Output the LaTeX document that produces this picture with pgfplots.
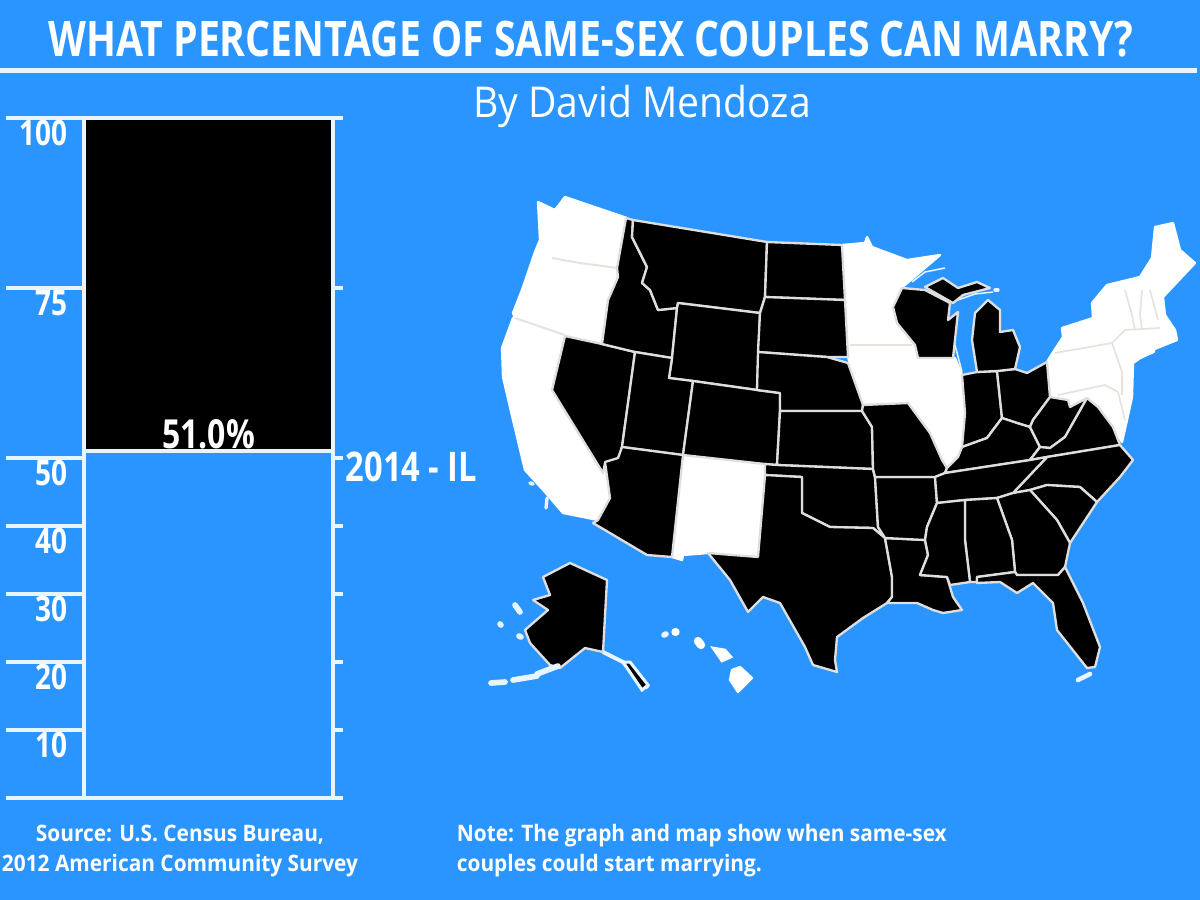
\documentclass[border=0pt]{standalone}
\usepackage{fontspec}
\usepackage{pgfplots}
\pgfplotsset{compat=1.18}
\setmainfont[FakeStretch=0.8]{Open Sans}
\newfontfamily\wide[FakeStretch=0.92]{Open Sans}
\definecolor{bg}{HTML}{2B95FF}
\definecolor{ln}{HTML}{E8F5FF}
\definecolor{bd}{HTML}{DEDEDE}
\definecolor{pale}{HTML}{E6E2DE}
\newcommand\stateb[1]{\addplot[fill=black,draw=bd,line width=1.4pt,line join=round] coordinates {#1} -- cycle;}
\newcommand\statew[1]{\addplot[fill=white,draw=white,line width=1.4pt,line join=round] coordinates {#1} -- cycle;}
\newcommand\isl[3][2.8pt]{\addplot[draw=#2,line width=#1,line cap=round] coordinates {#3};}
\begin{document}
\begin{tikzpicture}[x=1pt,y=1pt]
\fill[bg] (0,0) rectangle (720,540);
\path[use as bounding box] (0,0) rectangle (720,540);
\begin{axis}[at={(0pt,0pt)},anchor=south west,scale only axis,width=720pt,height=540pt,
  xmin=0,xmax=1200,ymin=0,ymax=900,y dir=reverse,hide axis,clip=true]
% rule under title
\addplot[ln,line width=3pt] coordinates {(0,70)(1197,70)};
% white states
\statew{(538,202)(555,210)(565,197)(627,218)(617,268)(618,277)(608,300)(602,344)(565,335)(515,318)(513,313)(522,290)(535,252)(540,240)}
\statew{(513,318)(565,335)(552,390)(603,473)(605,462)(610,498)(598,520)(563,513)(545,492)(525,470)(513,420)(503,377)(502,348)}
\statew{(683,455)(765,464)(758,557)(708,553)(683,555)(682,560)(672,557)}
\statew{(842,245)(865,243)(867,237)(872,247)(907,260)(940,255)(905,285)(900,288)(893,307)(897,323)(913,337)(915,345)(923,360)(927,370)(918,388)(908,403)(863,405)(848,357)(845,300)}
\statew{(918,358)(955,358)(962,375)(965,413)(962,447)(958,457)(947,468)(942,460)(930,433)(908,403)(918,388)(927,370)}
\statew{(1047,362)(1050,357)(1063,337)(1062,328)(1093,318)(1092,303)(1107,285)(1140,277)(1152,258)(1155,227)(1173,223)(1180,250)(1195,263)(1163,297)(1165,315)(1175,330)(1177,340)(1152,350)(1133,363)(1132,397)(1127,420)(1122,442)(1113,427)(1098,407)(1087,398)(1070,407)(1068,400)(1050,397)}
\isl{white}{(1137,358)(1153,351)}
\isl[2.2pt]{ln}{(530,483)(533,484)}
\isl[2pt]{ln}{(547,498)(546,508)}
% faint inner borders of the white states
\addplot[pale,line width=1.2pt] coordinates {(552,258)(580,263)(617,268)};
\addplot[pale,line width=1.2pt] coordinates {(515,318)(565,335)};
\addplot[pale,line width=1.2pt] coordinates {(850,345)(912,345)};
\addplot[pale,line width=1pt] coordinates {(1055,353)(1112,343)(1125,330)};
\addplot[pale,line width=1pt] coordinates {(1112,343)(1122,372)(1122,395)};
\addplot[pale,line width=1pt] coordinates {(1058,395)(1105,385)(1118,392)(1125,420)};
\addplot[pale,line width=1pt] coordinates {(1125,330)(1160,328)};
\addplot[pale,line width=1pt] coordinates {(1125,290)(1132,315)(1135,330)};
\addplot[pale,line width=1pt] coordinates {(1142,290)(1140,315)(1142,330)};
\addplot[pale,line width=1pt] coordinates {(1150,290)(1158,320)};
% Great Lakes shores
\addplot[ln,line width=.9pt] coordinates {(958,300)(975,294)(993,292)};
\addplot[ln,line width=.9pt] coordinates {(912,282)(925,272)(945,268)};
\isl[2pt]{ln}{(995,290)(998,290)}
\addplot[ln,line width=.9pt] coordinates {(955,320)(955,345)(962,372)};
% black states
\stateb{(565,336)(602,344)(635,352)(622,447)(618,463)(605,463)(603,473)(552,390)}
\stateb{(626,218)(633,220)(632,237)(647,267)(642,283)(650,290)(658,310)(677,308)(672,358)(635,352)(602,344)(608,300)(618,277)(617,268)}
\stateb{(633,220)(767,242)(765,297)(760,313)(678,303)(677,308)(658,310)(650,290)(642,283)(647,267)(632,237)}
\stateb{(678,303)(760,313)(757,390)(693,381)(669,378)(672,358)(677,308)}
\stateb{(635,352)(672,358)(669,378)(693,381)(683,455)(622,447)}
\stateb{(693,381)(757,390)(780,393)(780,411)(777,465)(765,464)(683,455)}
\stateb{(622,447)(683,455)(672,557)(647,555)(593,523)(598,520)(610,498)(605,462)(618,458)}
\stateb{(767,242)(842,245)(845,300)(765,297)}
\stateb{(765,297)(845,300)(848,357)(827,357)(758,352)(760,313)}
\stateb{(758,352)(827,357)(848,363)(863,405)(862,411)(780,411)(780,393)(757,390)}
\stateb{(780,411)(862,411)(872,427)(873,469)(777,465)}
\stateb{(765,464)(777,465)(873,469)(875,477)(878,527)(885,538)(873,528)(830,527)(802,513)(802,477)(765,475)}
\stateb{(765,475)(802,477)(802,513)(830,527)(873,528)(885,538)(892,577)(892,597)(887,603)(863,618)(837,637)(835,660)(837,672)(813,665)(805,647)(780,603)(763,597)(748,612)(730,580)(708,553)(758,557)}
\stateb{(885,538)(925,540)(928,555)(920,575)(947,577)(953,597)(962,610)(943,613)(933,610)(917,603)(887,603)(892,597)(892,577)}
\stateb{(875,477)(935,477)(937,503)(927,527)(925,540)(885,538)(878,527)}
\stateb{(863,405)(908,403)(930,433)(942,460)(947,468)(945,473)(935,477)(875,477)(873,469)(872,427)(862,411)}
\stateb{(902,288)(925,290)(950,303)(948,320)(958,312)(953,358)(918,358)(915,345)(897,323)(893,307)}
\stateb{(962,375)(977,372)(997,371)(1002,418)(987,438)(962,447)(965,413)}
\stateb{(997,371)(1015,369)(1027,373)(1047,362)(1050,397)(1033,420)(1030,427)(1017,423)(1002,418)}
\stateb{(977,372)(972,340)(975,313)(988,300)(1000,310)(1000,332)(1013,330)(1020,347)(1015,369)(997,371)}
\stateb{(925,287)(943,278)(958,288)(977,282)(990,288)(963,295)(953,303)}
\stateb{(962,447)(987,438)(1002,418)(1017,423)(1030,427)(1040,447)(1030,460)(945,473)(947,468)(958,457)}
\stateb{(1033,420)(1050,397)(1068,400)(1070,407)(1087,398)(1065,437)(1050,448)(1040,447)(1030,427)}
\stateb{(1087,398)(1098,407)(1113,427)(1120,445)(1047,457)(1030,460)(1040,447)(1050,448)(1065,437)}
\stateb{(1120,445)(1133,460)(1120,477)(1097,502)(1080,487)(1047,485)(1030,490)(1013,493)(1047,457)}
\stateb{(945,473)(1030,460)(1047,457)(1013,493)(997,498)(965,500)(937,503)(935,477)}
\stateb{(1030,490)(1047,485)(1080,487)(1097,502)(1070,543)(1057,520)}
\stateb{(997,498)(1013,493)(1030,490)(1057,520)(1070,543)(1065,567)(1058,575)(1017,575)(1015,572)(1012,540)}
\stateb{(965,500)(997,498)(1012,540)(1015,572)(977,577)(977,582)(970,582)(965,540)}
\stateb{(937,503)(965,500)(965,540)(970,582)(950,585)(947,577)(920,575)(928,555)(925,540)(927,527)}
\stateb{(977,577)(1015,572)(1017,575)(1058,575)(1065,567)(1083,603)(1100,647)(1095,667)(1087,668)(1057,630)(1053,603)(1033,583)(1017,593)(1000,582)(977,583)}
\isl{ln}{(1078,680)(1090,674)}
% Alaska, its islands, Hawaii
\addplot[draw=ln,line width=2.4pt] coordinates {(603,652)(623,662)(648,688)};
\stateb{(543,577)(570,563)(607,580)(603,652)(585,648)(560,668)(550,665)(530,643)(525,630)(548,610)(533,600)(550,595)}
\addplot[fill=black,draw=ln,line width=1.8pt] coordinates {(623,662)(630,662)(648,685)(642,690)} -- cycle;
\isl[3.4pt]{ln}{(491,683)(505,682)}
\isl[3.4pt]{ln}{(513,680)(537,676)}
\isl[3.4pt]{ln}{(537,674)(558,666)}
\isl[3.4pt]{ln}{(515,605)(520,612)}
\isl[3.4pt]{ln}{(500,624)(501,625)}
\isl[3.4pt]{ln}{(519,636)(521,637)}
\isl[3.4pt]{ln}{(664,635)(666,634)}
\isl[4.4pt]{white}{(675,632)(676,632)}
\isl[5pt]{white}{(698,641)(701,645)}
\addplot[fill=white,draw=white,line width=1.6pt] coordinates {(713,648)(725,650)(731,657)(722,661)} -- cycle;
\statew{(732,670)(740,667)(752,678)(738,692)(730,680)}
% titles and notes
\node[text=white,font=\fontsize{29.4pt}{30pt}\selectfont\bfseries] at (axis cs:591,39.5) {WHAT PERCENTAGE OF SAME-SEX COUPLES CAN MARRY?};
\node[text=white,font=\fontsize{25.5pt}{27pt}\selectfont\wide] at (axis cs:642,106) {By David Mendoza};
\node[text=white,font=\fontsize{24.5pt}{26pt}\selectfont\bfseries,anchor=west] at (axis cs:340,467) {2014 - IL};
\node[text=white,font=\fontsize{13.6pt}{18pt}\selectfont\wide\bfseries,align=center] at (axis cs:180,851) {Source: U.S. Census Bureau,\\2012 American Community Survey};
\node[text=white,font=\fontsize{13.6pt}{18pt}\selectfont\wide\bfseries,align=left,anchor=west] at (axis cs:451,851) {Note: The graph and map show when same-sex\\couples could start marrying.};
\end{axis}
% bar scale, 0 to 100
\begin{axis}[at={(50.4pt,61.2pt)},anchor=south west,scale only axis,width=149.4pt,height=408pt,
  xmin=0,xmax=1,ymin=0,ymax=100,xtick=\empty,ytick={0,10,20,30,40,50,75,100},
  yticklabels={,10,20,30,40,50,75,100},
  tick align=outside,ytick pos=left,major tick length=46.8pt,
  every tick/.style={ln,line width=2.4pt},axis line style={ln,line width=2.4pt},
  axis on top,
  /pgf/number format/assume math mode=true,
  yticklabel style={text=white,font=\fontsize{21pt}{22pt}\selectfont\bfseries,anchor=east,xshift=40.2pt,yshift=-9pt}]
\addplot[fill=black,draw=none] coordinates {(0,51)(0,100)(1,100)(1,51)} -- cycle;
\addplot[ln,line width=2.4pt] coordinates {(0,51)(1,51)};
\node[text=white,font=\fontsize{24pt}{25pt}\selectfont\bfseries] at (axis cs:0.5,53.5) {51.0\%};
\end{axis}
\begin{axis}[at={(50.4pt,61.2pt)},anchor=south west,scale only axis,width=149.4pt,height=408pt,
  xmin=0,xmax=1,ymin=0,ymax=100,xtick=\empty,ytick={0,10,20,30,40,50,75,100},yticklabels={},
  tick align=outside,ytick pos=right,major tick length=6pt,
  every tick/.style={ln,line width=2.4pt},axis line style={draw=none}]
\addplot[draw=none] coordinates {(0,0)(1,100)};
\end{axis}
\end{tikzpicture}
\end{document}
